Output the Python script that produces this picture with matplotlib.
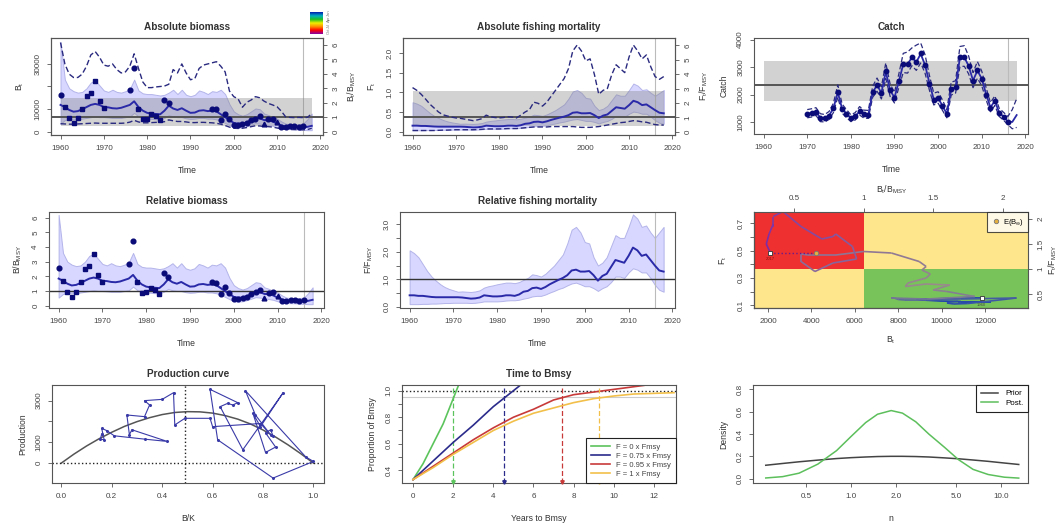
import numpy as np
import matplotlib
matplotlib.use("Agg")
import matplotlib.pyplot as plt
from matplotlib.collections import LineCollection
from matplotlib.colors import LinearSegmentedColormap
from matplotlib.patches import Rectangle

plt.rcParams['font.family'] = ['Liberation Sans', 'DejaVu Sans']
plt.rcParams['mathtext.fontset'] = 'custom'
plt.rcParams['mathtext.rm'] = 'Liberation Sans'
plt.rcParams['mathtext.it'] = 'Liberation Sans:italic'
plt.rcParams['mathtext.bf'] = 'Liberation Sans:bold'

# ---- data ----
years = np.arange(1960, 2019)
BMSY = 6400.0
FMSY = 0.365
BMSY_CI = (2500, 15100)
FMSY_CI = (0.14, 1.03)
MSY = 2330
MSY_CI = (1745, 3205)
LAST_DATA = 2016

rel_b = [1.85, 1.70, 1.50, 1.38, 1.42, 1.55, 1.70, 1.85, 1.92, 1.85,
         1.70, 1.68, 1.62, 1.60, 1.65, 1.75, 1.85, 2.10, 1.70, 1.45,
         1.30, 1.25, 1.22, 1.20, 1.45, 1.80, 1.60, 1.50, 1.62, 1.45,
         1.30, 1.32, 1.45, 1.48, 1.42, 1.45, 1.40, 1.20, 1.00, 0.80,
         0.60, 0.55, 0.55, 0.65, 0.78, 0.95, 0.92, 0.80, 0.78, 0.70,
         0.55, 0.42, 0.35, 0.35, 0.35, 0.32, 0.30, 0.33, 0.40]
rel_b_hi = [6.20, 3.60, 3.00, 2.80, 2.70, 2.75, 3.00, 3.40, 3.55, 3.20,
            2.85, 2.75, 2.90, 2.75, 2.70, 2.80, 2.95, 3.60, 2.85, 2.65,
            2.60, 2.60, 2.55, 2.50, 2.55, 2.70, 2.90, 2.60, 2.90, 2.55,
            2.45, 2.55, 2.85, 2.75, 2.60, 2.80, 2.75, 2.90, 2.60, 1.90,
            1.40, 1.20, 1.10, 1.20, 1.40, 1.60, 1.55, 1.25, 1.15, 1.00,
            0.90, 0.70, 0.55, 0.52, 0.50, 0.52, 0.55, 0.85, 1.25]
rel_b_lo = [0.55, 0.80, 0.85, 0.85, 0.85, 0.90, 0.95, 1.00, 1.05, 1.00,
            1.00, 0.98, 0.95, 0.95, 0.95, 1.00, 1.05, 1.30, 1.05, 0.95,
            0.90, 0.88, 0.85, 0.85, 0.95, 1.15, 1.05, 1.00, 1.00, 0.92,
            0.88, 0.90, 0.95, 0.95, 0.90, 0.90, 0.85, 0.75, 0.60, 0.45,
            0.30, 0.28, 0.30, 0.38, 0.48, 0.58, 0.55, 0.50, 0.45, 0.40,
            0.30, 0.22, 0.18, 0.17, 0.16, 0.14, 0.12, 0.10, 0.10]
b_ci_hi = [39500, 30000, 25500, 24000, 24000, 25500, 29000, 34000, 35500, 33000,
           29500, 29000, 30000, 27500, 26000, 26500, 29000, 34500, 28000, 22000,
           19500, 19500, 19800, 20000, 20200, 21000, 27500, 26000, 30000, 26000,
           23000, 23500, 28000, 29500, 30000, 30500, 31000, 29000, 26500, 18000,
           15500, 14500, 10800, 13000, 14000, 15500, 15000, 13500, 12500, 11800,
           11000, 9000, 6500, 6300, 6200, 6300, 6200, 6300, 8000]
b_ci_lo = [3500, 3400, 3300, 3300, 3400, 3500, 3600, 3700, 3800, 3700,
           3700, 3700, 3700, 3700, 3700, 3800, 4200, 5000, 4300, 3900,
           3900, 4000, 4100, 4200, 4400, 5200, 4800, 4500, 4500, 4300,
           4000, 4000, 4100, 4100, 4000, 3900, 3700, 3300, 2700, 2000,
           1500, 1400, 1500, 1800, 2200, 2600, 2500, 2300, 2200, 2000,
           1600, 1200, 1000, 950, 900, 850, 800, 900, 1500]

idx1_years = [1961, 1962, 1963, 1964, 1965, 1966, 1967, 1968, 1969, 1970,
              1978, 1979, 1980, 1981, 1982, 1983]
idx1_vals = [1.70, 0.95, 0.60, 0.95, 1.60, 2.50, 2.70, 3.50, 2.10, 1.65,
             1.60, 0.85, 0.90, 1.20, 1.05, 0.80]
idx2_years = [1960, 1976, 1977, 1984, 1985, 1995, 1996, 1997, 1998, 1999,
              2000, 2001, 2002, 2003, 2004, 2005, 2006, 2008, 2009, 2011,
              2012, 2013, 2014, 2015, 2016]
idx2_vals = [2.55, 2.85, 4.40, 2.20, 1.95, 1.60, 1.55, 0.80, 1.25, 0.85,
             0.45, 0.45, 0.50, 0.60, 0.80, 0.90, 1.05, 0.85, 0.90, 0.35,
             0.30, 0.40, 0.40, 0.35, 0.40]
idx3_years = [2007, 2010]
idx3_vals = [0.50, 0.65]

rel_f = [0.42, 0.42, 0.40, 0.40, 0.38, 0.36, 0.35, 0.35, 0.35, 0.35,
         0.35, 0.35, 0.34, 0.32, 0.30, 0.31, 0.34, 0.42, 0.40, 0.38,
         0.38, 0.39, 0.42, 0.42, 0.40, 0.45, 0.55, 0.58, 0.68, 0.70,
         0.65, 0.72, 0.82, 0.90, 0.98, 1.05, 1.15, 1.32, 1.35, 1.28,
         1.28, 1.30, 1.15, 0.95, 1.12, 1.20, 1.45, 1.70, 1.65, 1.60,
         1.85, 2.15, 2.05, 1.85, 1.90, 1.70, 1.50, 1.32, 1.28]
rel_f_hi = [2.05, 1.95, 1.80, 1.55, 1.30, 1.10, 0.95, 0.82, 0.72, 0.65,
            0.60, 0.55, 0.56, 0.55, 0.54, 0.56, 0.60, 0.70, 0.75, 0.78,
            0.82, 0.85, 0.88, 0.88, 0.86, 0.90, 0.98, 1.05, 1.18, 1.15,
            1.10, 1.20, 1.35, 1.50, 1.70, 1.90, 2.30, 2.80, 2.90, 2.70,
            2.35, 2.30, 1.80, 1.50, 1.60, 1.80, 2.20, 2.60, 2.50, 2.50,
            2.90, 3.35, 3.20, 2.90, 2.95, 2.70, 2.50, 2.70, 2.90]
rel_f_lo = [0.10, 0.10, 0.10, 0.11, 0.11, 0.12, 0.12, 0.13, 0.14, 0.14,
            0.15, 0.15, 0.15, 0.15, 0.14, 0.15, 0.17, 0.20, 0.20, 0.20,
            0.20, 0.21, 0.23, 0.24, 0.24, 0.26, 0.30, 0.33, 0.38, 0.40,
            0.40, 0.45, 0.52, 0.58, 0.65, 0.70, 0.78, 0.85, 0.88, 0.82,
            0.75, 0.75, 0.68, 0.58, 0.68, 0.75, 0.90, 1.10, 1.10, 1.05,
            1.25, 1.40, 1.35, 1.25, 1.25, 1.05, 0.80, 0.62, 0.55]
f_ci_hi = [1.12, 1.05, 0.95, 0.83, 0.70, 0.60, 0.50, 0.43, 0.40, 0.37,
           0.35, 0.34, 0.32, 0.30, 0.28, 0.30, 0.33, 0.42, 0.38, 0.36,
           0.35, 0.36, 0.38, 0.37, 0.35, 0.42, 0.50, 0.56, 0.75, 0.72,
           0.65, 0.75, 0.90, 1.05, 1.20, 1.35, 1.60, 2.05, 2.20, 2.05,
           1.80, 1.85, 1.45, 0.95, 1.05, 1.10, 1.45, 1.70, 1.60, 1.50,
           1.90, 2.20, 2.05, 1.85, 1.95, 1.65, 1.40, 1.33, 1.40]
f_ci_lo = [0.03, 0.03, 0.03, 0.03, 0.03, 0.03, 0.035, 0.04, 0.04, 0.045,
           0.05, 0.05, 0.05, 0.05, 0.05, 0.055, 0.06, 0.07, 0.07, 0.07,
           0.07, 0.075, 0.08, 0.08, 0.08, 0.09, 0.10, 0.11, 0.12, 0.12,
           0.12, 0.12, 0.13, 0.13, 0.13, 0.13, 0.13, 0.13, 0.12, 0.11,
           0.11, 0.11, 0.12, 0.13, 0.15, 0.17, 0.19, 0.21, 0.23, 0.24,
           0.26, 0.28, 0.27, 0.25, 0.24, 0.21, 0.18, 0.17, 0.17]

catch_years = np.arange(1970, 2017)
catch_obs = [1290, 1320, 1380, 1130, 1130, 1220, 1500, 2100, 1480, 1300,
             1130, 1200, 1400, 1280, 1270, 2100, 2350, 2050, 2850, 2150,
             1880, 2500, 3120, 3100, 3380, 3170, 3520, 3070, 2400, 1800,
             1870, 1580, 1280, 2200, 2270, 3370, 3370, 3050, 2500, 2880,
             2580, 2000, 1520, 1780, 1330, 1180, 1000]
est_years = np.arange(1970, 2019)
catch_est = [1300, 1330, 1370, 1150, 1130, 1230, 1500, 2080, 1480, 1300,
             1140, 1200, 1390, 1280, 1270, 2080, 2340, 2060, 2830, 2150,
             1890, 2480, 3100, 3110, 3350, 3180, 3480, 3080, 2420, 1820,
             1870, 1590, 1290, 2180, 2270, 3350, 3360, 3040, 2510, 2870,
             2580, 2010, 1530, 1770, 1340, 1190, 1010, 1000, 1250]
catch_hi = [1450, 1480, 1520, 1300, 1270, 1380, 1680, 2350, 1650, 1450,
            1260, 1340, 1560, 1430, 1420, 2300, 2600, 2280, 3150, 2380,
            2080, 2750, 3500, 3550, 3700, 3800, 3880, 3450, 2700, 2050,
            2100, 1800, 1450, 2450, 2500, 3750, 3780, 3400, 2800, 3200,
            2850, 2250, 1700, 1950, 1500, 1350, 1200, 1450, 1850]
catch_lo = [1150, 1180, 1240, 1010, 1000, 1090, 1340, 1900, 1320, 1160,
            1010, 1070, 1250, 1140, 1130, 1900, 2120, 1840, 2580, 1930,
            1690, 2260, 2800, 2780, 3050, 2880, 3150, 2780, 2160, 1620,
            1680, 1420, 1150, 1980, 2050, 3020, 3030, 2750, 2250, 2590,
            2320, 1800, 1370, 1600, 1200, 1060, 900, 750, 800]

# kobe: end year and expected equilibrium
KOBE_END = 2017
eb_inf = (0.66, 1.32)

# production curve
pc_bk = [0.0, 0.05, 0.1, 0.15, 0.2, 0.25, 0.3, 0.35, 0.4, 0.45, 0.5,
         0.55, 0.6, 0.65, 0.7, 0.75, 0.8, 0.85, 0.9, 0.95, 1.0]
pc_prod = [0, 430, 820, 1170, 1480, 1760, 1990, 2180, 2330, 2430, 2470,
           2460, 2400, 2280, 2110, 1880, 1590, 1250, 870, 450, 0]
BK_MSY = 0.49
path_bk = [0.84, 0.83, 0.81, 0.85, 0.81, 0.76, 0.79, 0.88, 0.72, 0.63, 0.66,
           0.68, 0.70, 0.59, 0.62, 0.84, 1.00, 0.97, 0.73, 0.77, 0.83, 0.79,
           0.60, 0.59, 0.49, 0.45, 0.445, 0.40, 0.33, 0.35, 0.33, 0.26,
           0.27, 0.28, 0.42, 0.33, 0.21, 0.18, 0.16, 0.17, 0.155, 0.16]
path_prod = [1300, 1600, 1450, 770, 510, 2390, 1750, 3380, 640, 2710, 2870,
             2790, 2900, 3540, 1120, -720, 80, 290, 3480, 2310, 1360, 1900,
             1750, 2150, 2150, 1830, 3380, 3060, 3000, 2790, 2230, 2310,
             1360, 1600, 1040, 1150, 1310, 1560, 1670, 1120, 1150, 1400]

# time to Bmsy
ttb = [
    ("F = 0 x Fmsy", '#5CC45C', [0, 0.5, 1, 1.5, 2, 2.5],
     [0.33, 0.45, 0.60, 0.75, 0.94, 1.13], 2.0),
    ("F = 0.75 x Fmsy", '#2B2B8C', [0, 1, 2, 3, 4, 5, 6],
     [0.33, 0.47, 0.61, 0.74, 0.88, 1.00, 1.12], 4.55),
    ("F = 0.95 x Fmsy", '#C83A3A', [0, 1, 2, 3, 4, 5, 6, 7, 8, 9, 10, 11, 11.5],
     [0.33, 0.43, 0.53, 0.63, 0.72, 0.80, 0.86, 0.93, 0.97, 0.99, 1.01, 1.03, 1.04], 7.4),
    ("F = 1 x Fmsy", '#F2C04A', list(range(14)),
     [0.33, 0.42, 0.52, 0.61, 0.70, 0.77, 0.83, 0.87, 0.91, 0.94, 0.96, 0.975, 0.98, 0.985], 9.25),
]

# prior / posterior of n
n_x = [0.27, 0.35, 0.45, 0.6, 0.8, 1.0, 1.25, 1.5, 1.85, 2.2, 2.7, 3.3,
       4.2, 5.2, 6.5, 8.2, 10.5, 13.1]
n_prior = [0.12, 0.136, 0.151, 0.166, 0.18, 0.188, 0.194, 0.198, 0.2, 0.2,
           0.198, 0.194, 0.186, 0.178, 0.167, 0.155, 0.14, 0.127]
n_post = [0.006, 0.018, 0.049, 0.13, 0.251, 0.378, 0.502, 0.577, 0.61, 0.587,
          0.509, 0.399, 0.28, 0.17, 0.083, 0.037, 0.013, 0.005]

# ---- styling ----
W, H = 1060, 523
BAND = (0.78, 0.78, 1.0, 0.7)
BAND_EDGE = '#B4B4EA'
GREYBOX = (0.5, 0.5, 0.5, 0.35)
LINE = '#2A2AA8'
PTS = '#0A0A78'
DASH = '#2A2A80'
AXC = '#555555'
TXT = '#333333'
TICK_FS = 5.8
LAB_FS = 6.2

fig = plt.figure(figsize=(W / 100, H / 100), dpi=100)


def px_axes(x0, x1, y0, y1):
    return fig.add_axes([x0 / W, (H - y1) / H, (x1 - x0) / W, (y1 - y0) / H])


def tickstyle(ax):
    ax.tick_params(direction='out', length=3, width=0.6, colors=AXC,
                   labelsize=TICK_FS, pad=4, labelcolor='#444444')


def rstyle(ax, title=None, xlabel=None, ylabel=None):
    for s in ax.spines.values():
        s.set_color(AXC)
        s.set_linewidth(0.8)
    tickstyle(ax)
    if title:
        ax.set_title(title, fontsize=7.2, fontweight='bold', color=TXT, pad=6)
    if xlabel:
        ax.set_xlabel(xlabel, fontsize=LAB_FS, color=TXT, labelpad=10)
    if ylabel:
        ax.set_ylabel(ylabel, fontsize=LAB_FS, color=TXT, labelpad=6)


def rot_y(ax):
    plt.setp(ax.get_yticklabels(), rotation=90, va='center')


def time_axis(ax):
    ax.set_xlim(1957.8, 2020.6)
    ax.set_xticks([1960, 1970, 1980, 1990, 2000, 2010, 2020])
    ax.axvline(LAST_DATA, color='#BBBBBB', lw=0.8, zorder=1)


# ---- 1 Absolute biomass ----
ax1 = px_axes(51, 323, 38, 135)
ax1r = ax1.twinx()
tr = ax1r.transData
ax1.fill_between(years, rel_b_lo, rel_b_hi, facecolor=BAND, edgecolor=BAND_EDGE,
                 lw=0.7, transform=tr, zorder=1)
ax1.add_patch(Rectangle((1960, BMSY_CI[0]), 2018 - 1960, BMSY_CI[1] - BMSY_CI[0],
                        facecolor=GREYBOX, edgecolor='none', zorder=2))
ax1.axhline(BMSY, color='#555555', lw=1.4, zorder=3)
ax1.plot(years, b_ci_hi, color=DASH, lw=1.0, ls=(0, (4, 2)), zorder=4)
ax1.plot(years, b_ci_lo, color=DASH, lw=1.0, ls=(0, (4, 2)), zorder=4)
ax1.plot(years, rel_b, color=LINE, lw=1.4, transform=tr, zorder=5)
ax1.plot(idx1_years, idx1_vals, 's', color=PTS, ms=3.4, transform=tr, zorder=6)
ax1.plot(idx2_years, idx2_vals, 'o', color=PTS, ms=3.4, transform=tr, zorder=6)
ax1.plot(idx3_years, idx3_vals, '^', color=PTS, ms=3.4, transform=tr, zorder=6)
time_axis(ax1)
ax1.set_ylim(-1500, 41500)
ax1r.set_ylim(-1500 / BMSY, 41500 / BMSY)
ax1.set_yticks([0, 10000, 20000, 30000], ['0', '10000', '', '30000'])
ax1r.set_yticks(range(7))
rstyle(ax1, 'Absolute biomass', 'Time', r'$\mathrm{B_t}$')
rstyle(ax1r)
ax1r.set_ylabel(r'$\mathrm{B_t/B_{MSY}}$', fontsize=LAB_FS, color=TXT, labelpad=4)
rot_y(ax1); rot_y(ax1r)

# season colour key
kax = fig.add_axes([310 / W, (H - 34) / H, 13 / W, 22 / H])
key_cmap = LinearSegmentedColormap.from_list(
    'season', ['#8A00A0', '#FF0000', '#FF9000', '#F0F000', '#20C020', '#00B0C0', '#0020B0'])
kax.imshow(np.linspace(1, 0, 50)[:, None], aspect='auto', cmap=key_cmap)
kax.set_axis_off()
for i, m in enumerate(['Jan', 'Apr', 'Jul', 'Oct']):
    fig.text(327 / W, (H - 13 - i * 6) / H, m, fontsize=3, color='#777777',
             rotation=90, ha='left', va='center')

# ---- 2 Absolute fishing mortality ----
ax2 = px_axes(403, 675, 38, 135)
ax2r = ax2.twinx()
tr = ax2r.transData
ax2.fill_between(years, rel_f_lo, rel_f_hi, facecolor=BAND, edgecolor=BAND_EDGE,
                 lw=0.7, transform=tr, zorder=1)
ax2.add_patch(Rectangle((1960, FMSY_CI[0]), 2018 - 1960, FMSY_CI[1] - FMSY_CI[0],
                        facecolor=GREYBOX, edgecolor='none', zorder=2))
ax2.axhline(FMSY, color='#555555', lw=1.4, zorder=3)
ax2.plot(years, f_ci_hi, color=DASH, lw=1.0, ls=(0, (4, 2)), zorder=4)
ax2.plot(years, f_ci_lo, color=DASH, lw=1.0, ls=(0, (4, 2)), zorder=4)
ax2.plot(years, rel_f, color=LINE, lw=1.4, transform=tr, zorder=5)
time_axis(ax2)
ax2.set_ylim(-0.084, 2.38)
ax2r.set_ylim(-0.084 / FMSY, 2.38 / FMSY)
ax2.set_yticks([0, 0.5, 1.0, 1.5, 2.0], ['0.0', '0.5', '1.0', '1.5', '2.0'])
ax2r.set_yticks(range(7))
rstyle(ax2, 'Absolute fishing mortality', 'Time', r'$\mathrm{F_t}$')
rstyle(ax2r)
ax2r.set_ylabel(r'$\mathrm{F_t/F_{MSY}}$', fontsize=LAB_FS, color=TXT, labelpad=4)
rot_y(ax2); rot_y(ax2r)

# ---- 3 Catch ----
ax3 = px_axes(754, 1028, 38, 134)
ax3.add_patch(Rectangle((1960, MSY_CI[0]), 2018 - 1960, MSY_CI[1] - MSY_CI[0],
                        facecolor=GREYBOX, edgecolor='none', zorder=1))
ax3.axhline(MSY, color='#555555', lw=1.4, zorder=2)
ax3.plot(est_years, catch_hi, color=DASH, lw=0.9, ls=(0, (4, 2)), zorder=3)
ax3.plot(est_years, catch_lo, color=DASH, lw=0.9, ls=(0, (4, 2)), zorder=3)
ax3.plot(est_years, catch_est, color=LINE, lw=1.3, zorder=4)
ax3.plot(catch_years, catch_obs, 'o', color=PTS, ms=3.2, zorder=5)
time_axis(ax3)
ax3.set_ylim(560, 4060)
ax3.set_yticks([1000, 2000, 3000, 4000])
rstyle(ax3, 'Catch', 'Time', 'Catch')
rot_y(ax3)

# ---- 4 Relative biomass ----
ax4 = px_axes(49, 324, 212, 308)
ax4.fill_between(years, rel_b_lo, rel_b_hi, facecolor=BAND, edgecolor=BAND_EDGE, lw=0.7, zorder=1)
ax4.axhline(1.0, color='#333333', lw=1.0, zorder=2)
ax4.plot(years, rel_b, color=LINE, lw=1.4, zorder=3)
ax4.plot(idx1_years, idx1_vals, 's', color=PTS, ms=3.4, zorder=4)
ax4.plot(idx2_years, idx2_vals, 'o', color=PTS, ms=3.4, zorder=4)
ax4.plot(idx3_years, idx3_vals, '^', color=PTS, ms=3.4, zorder=4)
time_axis(ax4)
ax4.set_ylim(-0.16, 6.4)
ax4.set_yticks(range(7))
rstyle(ax4, 'Relative biomass', 'Time', r'$\mathrm{B/B_{MSY}}$')
rot_y(ax4)

# ---- 5 Relative fishing mortality ----
ax5 = px_axes(400, 675, 212, 308)
ax5.fill_between(years, rel_f_lo, rel_f_hi, facecolor=BAND, edgecolor=BAND_EDGE, lw=0.7, zorder=1)
ax5.axhline(1.0, color='#333333', lw=1.0, zorder=2)
ax5.plot(years, rel_f, color=LINE, lw=1.4, zorder=3)
time_axis(ax5)
ax5.set_ylim(-0.04, 3.44)
ax5.set_yticks([0, 0.5, 1.0, 1.5, 2.0, 2.5, 3.0], ['0.0', '', '1.0', '', '2.0', '', '3.0'])
rstyle(ax5, 'Relative fishing mortality', 'Time', r'$\mathrm{F/F_{MSY}}$')
rot_y(ax5)

# ---- 6 Kobe ----
ax6 = px_axes(754, 1028, 212, 308)
ax6.set_xlim(0.2116, 2.183)
ax6.set_ylim(0.22, 2.14)
ax6.add_patch(Rectangle((0, 1), 1, 5, facecolor='#EE3030', edgecolor='none', zorder=0))
ax6.add_patch(Rectangle((1, 1), 5, 5, facecolor='#FDE68C', edgecolor='none', zorder=0))
ax6.add_patch(Rectangle((0, 0), 1, 1, facecolor='#FDE68C', edgecolor='none', zorder=0))
ax6.add_patch(Rectangle((1, 0), 5, 1, facecolor='#78C45A', edgecolor='none', zorder=0))
n_k = KOBE_END - years[0] + 1
kb = np.array(rel_b[:n_k])
kf = np.array(rel_f[:n_k])
pts = np.column_stack([kb, kf])
segs = np.stack([pts[:-1], pts[1:]], axis=1)
kcmap = LinearSegmentedColormap.from_list('traj', ['#1538B0', '#3050A8', '#9A8A8C', '#8A6E9A', '#7E2AA8'])
lc = LineCollection(segs, colors=kcmap(np.linspace(0, 1, len(segs))), lw=1.2, zorder=2)
ax6.add_collection(lc)
ax6.plot([kb[-1], eb_inf[0]], [kf[-1], eb_inf[1]], ls=':', color='#6A1A8A', lw=1, zorder=3)
ax6.plot(kb[0], kf[0], 's', ms=3, mfc='white', mec='#333333', mew=0.6, zorder=4)
ax6.plot(kb[-1], kf[-1], 's', ms=3, mfc='white', mec='#333333', mew=0.6, zorder=4)
ax6.text(kb[0], kf[0] - 0.09, str(years[0]), fontsize=3, color='#444444', ha='center', va='top')
ax6.text(kb[-1], kf[-1] - 0.09, str(KOBE_END), fontsize=3, color='#8A1010', ha='center', va='top')
ax6.plot(eb_inf[0], eb_inf[1], 'o', ms=3.2, mfc='#E4B040', mec='#777777', mew=0.6, zorder=4,
         label=r'$\mathrm{E(B_\infty)}$')
leg6 = ax6.legend(loc='upper right', fontsize=5.5, frameon=True, fancybox=False,
                  borderaxespad=0, handlelength=1, handletextpad=0.4, borderpad=0.6)
leg6.get_frame().set_edgecolor('#222222')
leg6.get_frame().set_linewidth(0.8)
ax6.xaxis.tick_top()
ax6.xaxis.set_label_position('top')
ax6.yaxis.tick_right()
ax6.yaxis.set_label_position('right')
ax6.set_xticks([0.5, 1, 1.5, 2], ['0.5', '1', '1.5', '2'])
ax6.set_yticks([0.5, 1, 1.5, 2], ['0.5', '1', '1.5', '2'])
rstyle(ax6)
ax6.set_xlabel(r'$\mathrm{B_t/B_{MSY}}$', fontsize=LAB_FS, color=TXT, labelpad=2)
ax6.set_ylabel(r'$\mathrm{F_t/F_{MSY}}$', fontsize=LAB_FS, color=TXT, labelpad=1)
sx = ax6.secondary_xaxis('bottom', functions=(lambda r: r * BMSY, lambda b: b / BMSY))
sx.set_xticks([2000, 4000, 6000, 8000, 10000, 12000])
sy = ax6.secondary_yaxis('left', functions=(lambda r: r * FMSY, lambda f: f / FMSY))
sy.set_yticks([0.1, 0.2, 0.3, 0.4, 0.5, 0.6, 0.7], ['0.1', '', '0.3', '', '0.5', '', '0.7'])
for s in (sx, sy):
    tickstyle(s)
sx.set_xlabel(r'$\mathrm{B_t}$', fontsize=LAB_FS, color=TXT, labelpad=7)
sy.set_ylabel(r'$\mathrm{F_t}$', fontsize=LAB_FS, color=TXT, labelpad=6)
rot_y(ax6); rot_y(sy)

# ---- 7 Production curve ----
ax7 = px_axes(52, 324, 385, 483)
ax7.plot(pc_bk, pc_prod, color='#555555', lw=1.1, zorder=2)
ax7.plot(path_bk, path_prod, color='#3A3AA8', lw=0.8, marker='o', ms=1.2, zorder=3)
ax7.axvline(BK_MSY, color='#222222', ls=':', lw=1.0)
ax7.axhline(0, color='#222222', ls=':', lw=1.0)
ax7.set_xlim(-0.037, 1.042)
ax7.set_ylim(-957, 3750)
ax7.set_xticks([0, 0.2, 0.4, 0.6, 0.8, 1.0], ['0.0', '0.2', '0.4', '0.6', '0.8', '1.0'])
ax7.set_yticks([0, 1000, 2000, 3000], ['0', '1000', '', '3000'])
rstyle(ax7, 'Production curve', 'B/K', 'Production')
rot_y(ax7)

# ---- 8 Time to Bmsy ----
ax8 = px_axes(402, 676, 385, 483)
ax8.axhline(0.95, color='#CCCCCC', lw=0.8, zorder=1)
ax8.axhline(1.0, color='#222222', ls=':', lw=1.0, zorder=1)
for lab, col, xs, ys, t in ttb:
    ax8.plot(xs, ys, color=col, lw=1.2, label=lab, zorder=2)
    ax8.axvline(t, color=col, ls=(0, (4, 2)), lw=0.9, zorder=2)
    ax8.plot(t, 0.315, 'v', color=col, ms=2.5, zorder=3, clip_on=False)
ax8.set_xlim(-0.55, 13.1)
ax8.set_ylim(0.304, 1.043)
ax8.set_xticks(range(0, 13, 2))
ax8.set_yticks([0.4, 0.5, 0.6, 0.7, 0.8, 0.9, 1.0], ['0.4', '', '0.6', '', '0.8', '', '1.0'])
leg8 = ax8.legend(loc='lower right', fontsize=5.5, frameon=True, fancybox=False, framealpha=1,
                  borderaxespad=0, handlelength=2.4, labelspacing=0.2, borderpad=0.7)
leg8.get_frame().set_edgecolor('#222222')
leg8.get_frame().set_linewidth(0.8)
for t in leg8.get_texts():
    t.set_color('#444444')
rstyle(ax8, 'Time to Bmsy', 'Years to Bmsy', 'Proportion of Bmsy')
rot_y(ax8)

# ---- 9 prior / posterior of n ----
ax9 = px_axes(753, 1028, 385, 483)
ax9.set_xscale('log')
ax9.plot(n_x, n_prior, color='#444444', lw=1.1, label='Prior')
ax9.plot(n_x, n_post, color='#5CBF5C', lw=1.1, label='Post.')
ax9.set_xlim(0.222, 15.1)
ax9.set_ylim(-0.039, 0.839)
ax9.set_xticks([0.5, 1, 2, 5, 10], ['0.5', '1.0', '2.0', '5.0', '10.0'])
ax9.xaxis.set_minor_locator(matplotlib.ticker.NullLocator())
ax9.set_yticks([0, 0.2, 0.4, 0.6, 0.8], ['0.0', '0.2', '0.4', '0.6', '0.8'])
leg9 = ax9.legend(loc='upper right', fontsize=5.8, frameon=True, fancybox=False, framealpha=1,
                  borderaxespad=0, handlelength=2.2, labelspacing=0.2, borderpad=0.6)
leg9.get_frame().set_edgecolor('#222222')
leg9.get_frame().set_linewidth(0.8)
rstyle(ax9, None, 'n', 'Density')
rot_y(ax9)

fig.savefig('out.png', dpi=100)
